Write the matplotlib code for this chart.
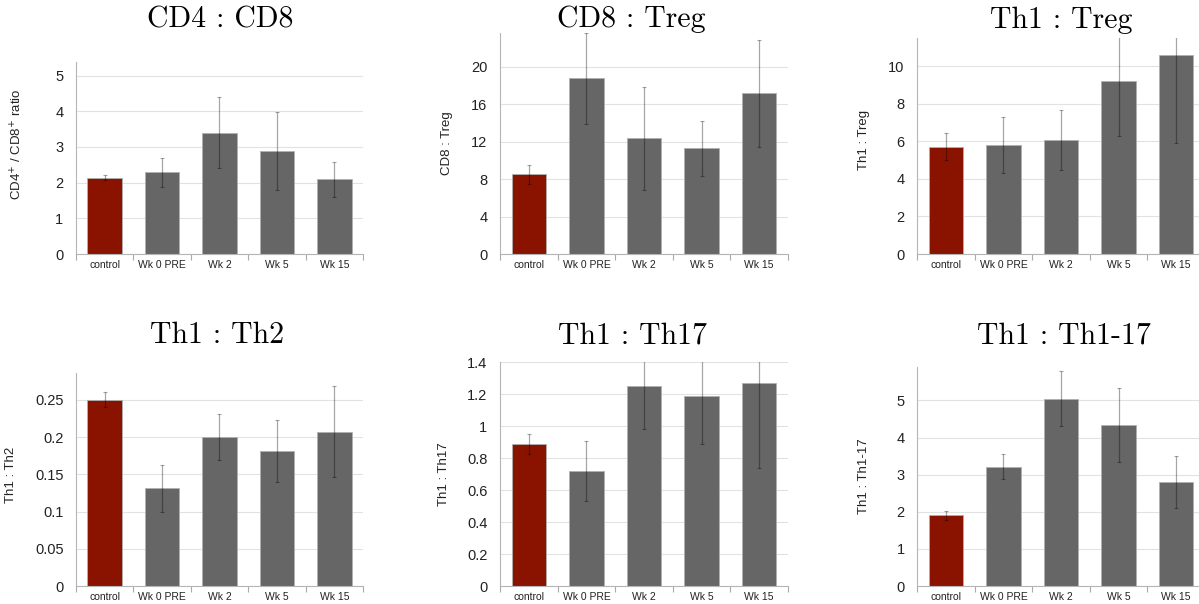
import matplotlib.pyplot as plt
import numpy as np

plt.rcParams['font.family'] = ['Liberation Sans', 'DejaVu Sans']

# data
groups = ['control', 'Wk 0 PRE', 'Wk 2', 'Wk 5', 'Wk 15']

cd4_cd8 = [2.14, 2.29, 3.40, 2.89, 2.09]
cd4_cd8_err = [0.06, 0.41, 1.00, 1.10, 0.50]

cd8_treg = [8.5, 18.75, 12.38, 11.28, 17.15]
cd8_treg_err = [1.0, 4.9, 5.5, 2.9, 5.7]

th1_treg = [5.71, 5.80, 6.09, 9.20, 10.60]
th1_treg_err = [0.73, 1.50, 1.60, 2.90, 4.70]

th1_th2 = [0.25, 0.131, 0.200, 0.181, 0.207]
th1_th2_err = [0.010, 0.031, 0.031, 0.042, 0.061]

th1_th17 = [0.888, 0.719, 1.25, 1.19, 1.27]
th1_th17_err = [0.06, 0.19, 0.27, 0.30, 0.53]

th1_th1_17 = [1.90, 3.21, 5.05, 4.33, 2.80]
th1_th1_17_err = [0.12, 0.34, 0.74, 1.00, 0.71]

W, H = 1199, 604
fig = plt.figure(figsize=(W / 100, H / 100), dpi=100)

red = '#8a1300'
grey = '#666666'


def panel(px, vals, errs, title, ylabel, ymax, step, title_xy, lab_xy):
    # px = (left, top, right, bottom) in pixels
    l, t, r, b = px
    ax = fig.add_axes([l / W, 1 - b / H, (r - l) / W, (b - t) / H])
    x = np.arange(len(groups))
    colors = [red] + [grey] * (len(groups) - 1)
    ax.bar(x, vals, width=0.6, color=colors, edgecolor='#b0b0b0',
           linewidth=0.6, zorder=2)
    ax.errorbar(x, vals, yerr=errs, fmt='none', ecolor='black', alpha=0.35,
                elinewidth=0.9, capsize=1.5, capthick=0.8, zorder=3)
    ax.set_xlim(-0.5, len(groups) - 0.5)
    ax.set_ylim(0, ymax)
    yt = np.round(np.arange(0, ymax + 1e-9, step), 4)
    ax.set_yticks(yt)
    ax.set_yticklabels(['{:g}'.format(v) for v in yt])
    ax.set_xticks(x)
    ax.set_xticklabels(groups, fontsize=7.5, color='#222222')
    ax.set_xticks(np.arange(-0.5, len(groups)), minor=True)
    ax.tick_params(axis='x', which='major', length=0, pad=4.5)
    ax.tick_params(axis='x', which='minor', length=4, color='#aaaaaa',
                   width=0.8)
    ax.tick_params(axis='y', length=0, pad=9, labelsize=10.5,
                   labelcolor='#222222')
    ax.grid(axis='y', color='#e2e2e2', linewidth=0.8, zorder=0)
    ax.set_axisbelow(True)
    for s in ['top', 'right']:
        ax.spines[s].set_visible(False)
    ax.spines['left'].set_color('#b5b5b5')
    ax.spines['bottom'].set_color('#b5b5b5')
    ax.set_ylabel(ylabel, fontsize=9.5, color='#222222')
    ax.yaxis.set_label_coords(lab_xy[0], lab_xy[1])
    fig.text(title_xy[0] / W, 1 - title_xy[1] / H, title, ha='center',
             va='baseline', fontsize=21.5, family='cmr10')
    return ax


panel((76, 62, 363, 254), cd4_cd8, cd4_cd8_err, 'CD4 : CD8',
      r'CD4$^{+}$ / CD8$^{+}$ ratio', 5.38, 1, (220, 28), (-0.178, 0.573))
panel((500, 33, 788, 254), cd8_treg, cd8_treg_err, 'CD8 : Treg',
      'CD8 : Treg', 23.6, 4, (631, 27), (-0.163, 0.5))
panel((917, 38, 1205, 254), th1_treg, th1_treg_err, 'Th1 : Treg',
      'Th1 : Treg', 11.5, 2, (1061, 28), (-0.163, 0.528))
panel((76, 373, 363, 586), th1_th2, th1_th2_err, 'Th1 : Th2',
      'Th1 : Th2', 0.286, 0.05, (217, 343), (-0.205, 0.523))
panel((500, 362, 788, 586), th1_th17, th1_th17_err, 'Th1 : Th17',
      'Th1 : Th17', 1.4, 0.2, (633, 343), (-0.174, 0.5))
panel((917, 367, 1205, 586), th1_th1_17, th1_th1_17_err, 'Th1 : Th1-17',
      'Th1 : Th1-17', 5.9, 1, (1064, 343), (-0.163, 0.5))

fig.savefig('out.png', dpi=100)
